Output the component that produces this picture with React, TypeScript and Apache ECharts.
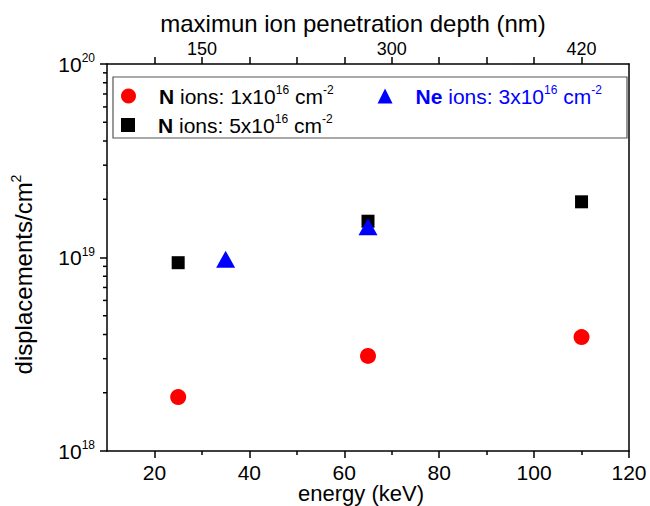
import React, { useEffect, useRef } from "react";
import * as echarts from "echarts";

// Data
const energyN1 = [25, 65, 110];
const dispN1 = [1.9e18, 3.1e18, 3.88e18];
const energyN5 = [25, 65, 110];
const dispN5 = [9.4e18, 1.54e19, 1.94e19];
const energyNe = [35, 65];
const dispNe = [9.8e18, 1.44e19];

const seriesNames = ["N1", "Ne3", "N5"];

// Axis ticks
const xMajorTicks = [20, 40, 60, 80, 100, 120];
const xMinorTicks = [30, 50, 70, 90, 110];
const topTickMarks = [20, 30, 40, 50, 60, 70, 80, 90, 100, 110];
const topTickEnergy = [30, 70, 110];
const topTickLabels = ["150", "300", "420"];
const yMinorTicks = [
  2e18, 3e18, 4e18, 5e18, 6e18, 7e18, 8e18, 9e18,
  2e19, 3e19, 4e19, 5e19, 6e19, 7e19, 8e19, 9e19,
];

const FONT = "'Liberation Sans', Arial, sans-serif";

export default function App() {
  const ref = useRef<HTMLDivElement>(null);
  useEffect(() => {
    if (!ref.current) return;
    const chart = echarts.init(ref.current, null, { renderer: "svg" });

    const legendRich = {
      b: { fontFamily: FONT, fontSize: 21, fontWeight: "bold", color: "#000", lineHeight: 24 },
      t: { fontFamily: FONT, fontSize: 21, color: "#000", lineHeight: 24 },
      s: { fontFamily: FONT, fontSize: 12, color: "#000", lineHeight: 14, verticalAlign: "top" },
      bb: { fontFamily: FONT, fontSize: 21, fontWeight: "bold", color: "#0000ff", lineHeight: 24 },
      tb: { fontFamily: FONT, fontSize: 21, color: "#0000ff", lineHeight: 24 },
      sb: { fontFamily: FONT, fontSize: 12, color: "#0000ff", lineHeight: 14, verticalAlign: "top" },
    };
    const legendText: Record<string, string> = {
      N1: "{b|N}{t| ions: 1x10}{s|16}{t| cm}{s|-2}",
      N5: "{b|N}{t| ions: 5x10}{s|16}{t| cm}{s|-2}",
      Ne3: "{bb|Ne}{tb| ions: 3x10}{sb|16}{tb| cm}{sb|-2}",
    };

    const option: any = {
      animation: false,
      backgroundColor: "#fff",
      textStyle: { fontFamily: FONT },
      grid: { left: 107, right: 21, top: 64, bottom: 55, containLabel: false, outerBoundsMode: "none" },
      legend: [
        {
          data: [seriesNames[0], seriesNames[1]],
          left: 121,
          top: 84,
          padding: 0,
          itemGap: 44,
          itemWidth: 15,
          itemHeight: 15,
          formatter: (n: string) => legendText[n],
          textStyle: { rich: legendRich, padding: [0, 0, 0, 18] },
          selectedMode: false,
        },
        {
          data: [seriesNames[2]],
          left: 121,
          top: 113,
          padding: 0,
          itemWidth: 14,
          itemHeight: 14,
          formatter: (n: string) => legendText[n],
          textStyle: { rich: legendRich, padding: [0, 0, 0, 18] },
          selectedMode: false,
        },
      ],
      graphic: [
        {
          type: "rect",
          shape: { x: 113, y: 77, width: 514, height: 61 },
          style: { fill: "none", stroke: "#555", lineWidth: 1.2 },
          silent: true,
          z: 10,
        },
      ],
      xAxis: [
        {
          type: "value",
          position: "bottom",
          min: 10,
          max: 120,
          name: "energy (keV)",
          nameLocation: "middle",
          nameGap: 31,
          nameMoveOverlap: false,
          nameTextStyle: { fontFamily: FONT, fontSize: 22, lineHeight: 22, color: "#000", padding: [0, 14, 0, 0] },
          axisLine: { show: true, lineStyle: { color: "#000", width: 1.5 } },
          axisTick: { show: true, inside: false, length: 7, customValues: xMajorTicks, lineStyle: { color: "#000", width: 1.5 } },
          axisLabel: { customValues: xMajorTicks, fontFamily: FONT, fontSize: 21, lineHeight: 18, color: "#000", margin: 12 },
          splitLine: { show: false },
        },
        {
          type: "value",
          position: "top",
          min: 10,
          max: 120,
          name: "maximun ion penetration depth (nm)",
          nameLocation: "middle",
          nameGap: 28,
          nameTextStyle: { fontFamily: FONT, fontSize: 24, color: "#000", padding: [0, 30, 0, 0] },
          axisLine: { show: true, lineStyle: { color: "#000", width: 1.5 } },
          axisTick: { show: true, inside: false, length: 7, customValues: topTickMarks, lineStyle: { color: "#000", width: 1.5 } },
          axisLabel: {
            customValues: topTickEnergy,
            fontFamily: FONT,
            fontSize: 18,
            color: "#000",
            margin: 6,
            formatter: (v: number) => {
              const i = topTickEnergy.indexOf(v);
              return i >= 0 ? topTickLabels[i] : "";
            },
          },
          splitLine: { show: false },
        },
        {
          type: "value",
          position: "bottom",
          min: 10,
          max: 120,
          axisLine: { show: false },
          axisTick: { show: true, inside: false, length: 4, customValues: xMinorTicks, lineStyle: { color: "#000", width: 1.5 } },
          axisLabel: { show: false },
          splitLine: { show: false },
        },
      ],
      yAxis: [
        {
          type: "log",
          logBase: 10,
          min: 1e18,
          max: 1e20,
          position: "left",
          name: "{t|displacements/cm}{s|2}",
          nameLocation: "middle",
          nameRotate: 90,
          nameGap: 70,
          nameTextStyle: {
            padding: [0, 34, 0, 0],
            rich: {
              t: { fontFamily: FONT, fontSize: 24, color: "#000", lineHeight: 28 },
              s: { fontFamily: FONT, fontSize: 14, color: "#000", lineHeight: 14, verticalAlign: "top" },
            },
          },
          axisLine: { show: true, lineStyle: { color: "#000", width: 1.5 } },
          axisTick: { show: true, inside: false, length: 7, lineStyle: { color: "#000", width: 1.5 } },
          axisLabel: {
            margin: 12,
            formatter: (v: number) => `{b|10}{s|${Math.round(Math.log10(v))}}`,
            rich: {
              b: { fontFamily: FONT, fontSize: 21, color: "#000", lineHeight: 24 },
              s: { fontFamily: FONT, fontSize: 12, color: "#000", lineHeight: 12, verticalAlign: "top" },
            },
          },
          splitLine: { show: false },
          minorSplitLine: { show: false },
        },
        {
          type: "log",
          logBase: 10,
          min: 1e18,
          max: 1e20,
          position: "right",
          axisLine: { show: true, lineStyle: { color: "#000", width: 1.5 } },
          axisTick: { show: false },
          axisLabel: { show: false },
          splitLine: { show: false },
        },
      ],
      series: [
        {
          name: seriesNames[0],
          type: "scatter",
          symbol: "circle",
          symbolSize: 16,
          itemStyle: { color: "#ff0000", opacity: 1 },
          data: energyN1.map((e, i) => [e, dispN1[i]]),
          z: 3,
        },
        {
          name: seriesNames[2],
          type: "scatter",
          symbol: "rect",
          symbolSize: 13,
          itemStyle: { color: "#000000", opacity: 1 },
          data: energyN5.map((e, i) => [e, dispN5[i]]),
          z: 3,
        },
        {
          name: seriesNames[1],
          type: "scatter",
          symbol: "triangle",
          symbolSize: [19, 17],
          itemStyle: { color: "#0000ff", opacity: 1 },
          data: energyNe.map((e, i) => [e, dispNe[i]]),
          z: 4,
        },
        {
          name: "yMinorTicks",
          type: "custom",
          silent: true,
          clip: false,
          xAxisIndex: 0,
          yAxisIndex: 0,
          data: yMinorTicks.map((v) => [10, v]),
          encode: { x: 0, y: 1 },
          renderItem: (params: any, api: any) => {
            const p = api.coord([api.value(0), api.value(1)]);
            return {
              type: "line",
              shape: { x1: p[0] - 4, y1: p[1], x2: p[0], y2: p[1] },
              style: { stroke: "#000", lineWidth: 1.5 },
            };
          },
        },
      ],
    };
    chart.setOption(option);
    return () => chart.dispose();
  }, []);
  return <div ref={ref} style={{ width: 650, height: 506, position: "absolute", left: 0, top: 0 }} />;
}
